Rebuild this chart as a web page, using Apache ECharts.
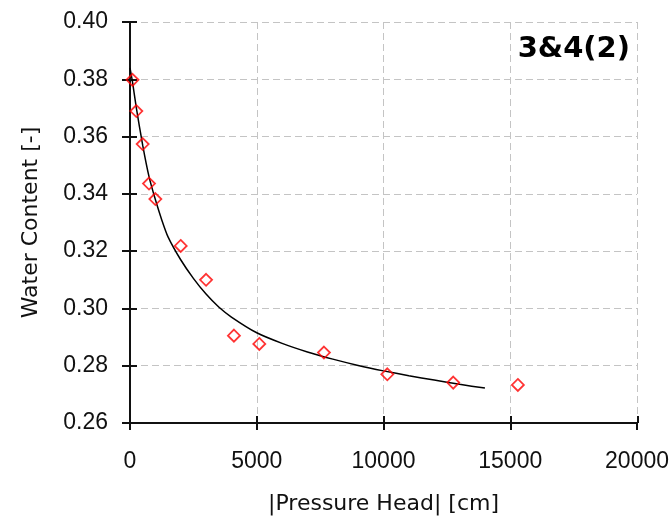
<!DOCTYPE html>
<html>
<head>
<meta charset="utf-8">
<style>
  html, body { margin: 0; padding: 0; background: #fff; }
  #chart { width: 672px; height: 525px; }
</style>
<script src="https://cdn.jsdelivr.net/npm/echarts@6/dist/echarts.min.js"></script>
</head>
<body>
<div id="chart"></div>
<script>
// measured points |h| [cm] vs water content
var headObs = [100, 250, 500, 750, 1000, 2000, 3000, 4100, 5100, 7650, 10150, 12750, 15300]
var thetaObs = [0.3798, 0.3689, 0.3574, 0.3436, 0.3382, 0.3218, 0.3100, 0.2905, 0.2876, 0.2846, 0.2770, 0.2741, 0.2733]

// fitted curve
var headFit = [0, 100, 250, 500, 750, 1000, 1250, 1500, 2000, 2500, 3000, 3500, 4000, 5000, 6000, 7000, 8000, 9000, 10000, 11000, 12000, 13000, 14000]
var thetaFit = [0.384, 0.379, 0.370, 0.357, 0.346, 0.338, 0.331, 0.325, 0.317, 0.3105, 0.305, 0.3005, 0.297, 0.2915, 0.2878, 0.2848, 0.2823, 0.2801, 0.2782, 0.2765, 0.2750, 0.2735, 0.2722]

var xTicks = { min: 0, max: 20000, interval: 5000 }
var yTicks = { min: 0.26, max: 0.40, interval: 0.02 }

var labelFont = 'Liberation Sans, Arial, sans-serif'
var nameFont = 'DejaVu Sans, Verdana, sans-serif'

var W = 672, H = 525
var gridBox = { left: 130, right: 34, top: 22, bottom: 102 }
var tickLen = 7

function zip(a, b) {
  return a.map(function (v, i) { return [v, b[i]] })
}

var chart = echarts.init(document.getElementById('chart'))

var axisLine = { show: true, onZero: false, lineStyle: { color: '#111', width: 2 } }
var tickStyle = { color: '#111', width: 2 }
var gridLine = { show: true, lineStyle: { color: '#c4c4c4', type: [7, 4], width: 1 } }
var tickAsSplit = { show: true, lineStyle: { color: '#111', width: 2, type: 'solid' } }

// a hidden axis that only draws its split lines (used for the inner half of the ticks)
function stubAxis(t, split) {
  return {
    type: 'value',
    min: t.min, max: t.max, interval: t.interval,
    axisLine: { show: false },
    axisTick: { show: false },
    axisLabel: { show: false },
    splitLine: split || { show: false }
  }
}

var xMain = {
  type: 'value',
  gridIndex: 0,
  min: xTicks.min, max: xTicks.max, interval: xTicks.interval,
  name: '|Pressure Head| [cm]',
  nameLocation: 'middle',
  nameGap: 70,
  nameTextStyle: { fontFamily: nameFont, fontSize: 22, color: '#111' },
  axisLine: axisLine,
  axisTick: { show: true, length: tickLen, lineStyle: tickStyle },
  axisLabel: {
    margin: 27, fontFamily: labelFont, fontSize: 23, color: '#111',
    formatter: function (v) { return String(v) }
  },
  splitLine: gridLine
}

var yMain = {
  type: 'value',
  gridIndex: 0,
  min: yTicks.min, max: yTicks.max, interval: yTicks.interval,
  name: 'Water Content [-]',
  nameLocation: 'middle',
  nameGap: 88,
  nameTextStyle: { fontFamily: nameFont, fontSize: 22, color: '#111' },
  axisLine: axisLine,
  axisTick: { show: true, length: tickLen + 1, lineStyle: tickStyle },
  axisLabel: {
    margin: 22, fontFamily: labelFont, fontSize: 23, color: '#111',
    formatter: function (v) { return v.toFixed(2) }
  },
  splitLine: gridLine
}

var xIn = Object.assign(stubAxis(xTicks, tickAsSplit), { gridIndex: 1 })
var yInStub = Object.assign(stubAxis(yTicks), { gridIndex: 1 })
var xStub = Object.assign(stubAxis(xTicks), { gridIndex: 2 })
var yIn = Object.assign(stubAxis(yTicks, tickAsSplit), { gridIndex: 2 })

chart.setOption({
  animation: false,
  backgroundColor: '#fff',
  title: {
    text: '3&4(2)',
    right: 37,
    top: 30,
    textStyle: { fontFamily: nameFont, fontWeight: 'bold', fontSize: 29, color: '#000' }
  },
  grid: [
    gridBox,
    // thin strip above the x axis
    { left: gridBox.left, right: gridBox.right, top: H - gridBox.bottom - tickLen, bottom: gridBox.bottom },
    // thin strip right of the y axis
    { left: gridBox.left, right: W - gridBox.left - tickLen, top: gridBox.top, bottom: gridBox.bottom }
  ],
  xAxis: [xMain, xIn, xStub],
  yAxis: [yMain, yInStub, yIn],
  series: [
    {
      type: 'line',
      data: zip(headFit, thetaFit),
      smooth: 0.2,
      showSymbol: false,
      lineStyle: { color: '#000', width: 1.5 },
      z: 2
    },
    {
      type: 'scatter',
      data: zip(headObs, thetaObs),
      symbol: 'diamond',
      symbolSize: 12,
      itemStyle: { color: 'rgba(0,0,0,0)', borderColor: '#ff0000', borderWidth: 1.8 },
      z: 3
    }
  ]
})
</script>
</body>
</html>
